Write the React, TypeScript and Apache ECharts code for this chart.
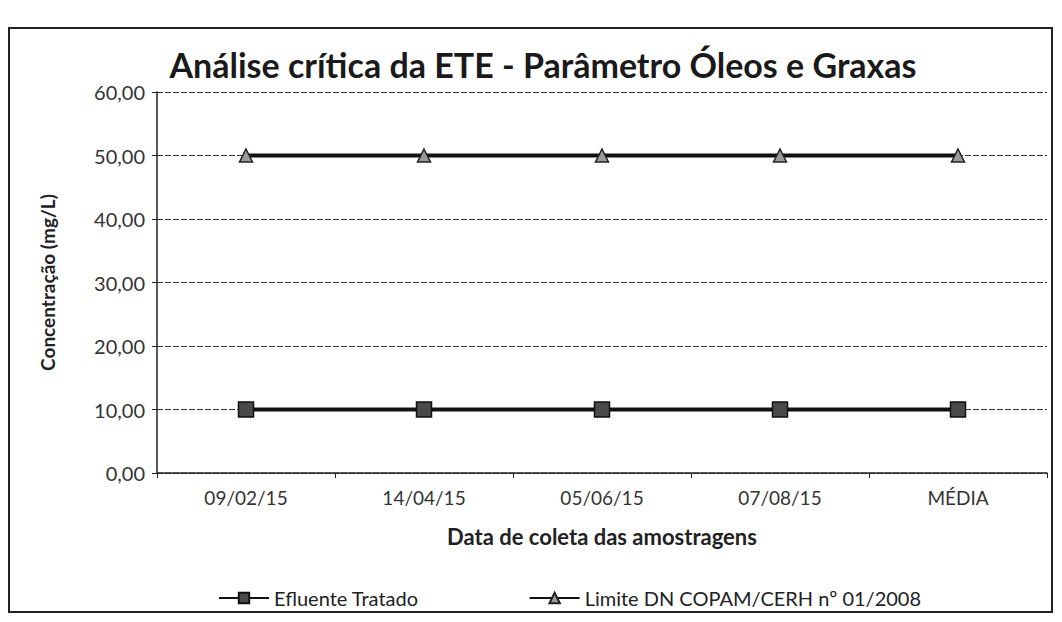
import React, { useEffect, useRef } from "react";
import * as echarts from "echarts";

const categories = ["09/02/15", "14/04/15", "05/06/15", "07/08/15", "MÉDIA"];
const efluenteTratado = [10, 10, 10, 10, 10];
const limiteDN = [50, 50, 50, 50, 50];
const yTicks = [0, 10, 20, 30, 40, 50, 60];

const FONT = "Lato, 'Open Sans', sans-serif";

export default function App() {
  const ref = useRef<HTMLDivElement>(null);
  useEffect(() => {
    if (!ref.current) return;
    const chart = echarts.init(ref.current, undefined, { renderer: "svg" });
    chart.setOption({
      animation: false,
      backgroundColor: "#ffffff",
      textStyle: { fontFamily: FONT },
      title: {
        text: "Análise crítica da ETE - Parâmetro Óleos e Graxas",
        left: 530,
        top: 34,
        textAlign: "center",
        textStyle: { fontFamily: FONT, fontSize: 34, fontWeight: "bold", color: "#1a1a1a" },
      },
      graphic: [
        {
          type: "rect",
          shape: { x: 1, y: 20, width: 1043, height: 584 },
          style: { fill: "none", stroke: "#222", lineWidth: 2 },
          silent: true,
        },
      ],
      legend: {
        top: 575,
        left: 205,
        itemGap: 110,
        itemWidth: 50,
        itemHeight: 13,
        textStyle: { fontFamily: FONT, fontSize: 20, color: "#222" },
        data: ["Efluente Tratado", "Limite DN COPAM/CERH nº 01/2008"],
      },
      grid: { left: 149, right: 7, top: 84, bottom: 141, containLabel: false },
      xAxis: {
        type: "category",
        data: categories,
        boundaryGap: true,
        name: "Data de coleta das amostragens",
        nameLocation: "middle",
        nameGap: 52,
        nameTextStyle: { fontFamily: FONT, fontSize: 22, fontWeight: "bold", color: "#222" },
        axisLine: { lineStyle: { color: "#222", width: 1.5 } },
        axisTick: { show: true, alignWithLabel: false, length: 5, lineStyle: { color: "#222" } },
        axisLabel: { fontFamily: FONT, fontSize: 19, color: "#333", margin: 15 },
      },
      yAxis: {
        type: "value",
        min: 0,
        max: 60,
        interval: 10,
        name: "Concentração (mg/L)",
        nameLocation: "middle",
        nameGap: 100,
        nameTextStyle: { fontFamily: FONT, fontSize: 19, fontWeight: "bold", color: "#222" },
        axisLine: { show: true, lineStyle: { color: "#222", width: 1.5 } },
        axisTick: { show: true, length: 5, lineStyle: { color: "#222" } },
        axisLabel: {
          fontFamily: FONT,
          fontSize: 20,
          color: "#333",
          margin: 12,
          formatter: (v: number) => (yTicks.includes(v) ? v.toFixed(2).replace(".", ",") : ""),
        },
        splitLine: { show: true, lineStyle: { color: "#333", width: 1, type: [6, 2] } },
      },
      series: [
        {
          name: "Efluente Tratado",
          type: "line",
          data: efluenteTratado,
          symbol: "rect",
          symbolSize: 15,
          lineStyle: { color: "#111", width: 4 },
          itemStyle: { color: "#4a4a4a", borderColor: "#111", borderWidth: 1.5 },
        },
        {
          name: "Limite DN COPAM/CERH nº 01/2008",
          type: "line",
          data: limiteDN,
          symbol: "triangle",
          symbolSize: 13,
          lineStyle: { color: "#111", width: 4 },
          itemStyle: { color: "#9a9a9a", borderColor: "#222", borderWidth: 1.5 },
        },
      ],
    });
    return () => chart.dispose();
  }, []);
  return <div ref={ref} style={{ width: 1046, height: 606 }} />;
}
